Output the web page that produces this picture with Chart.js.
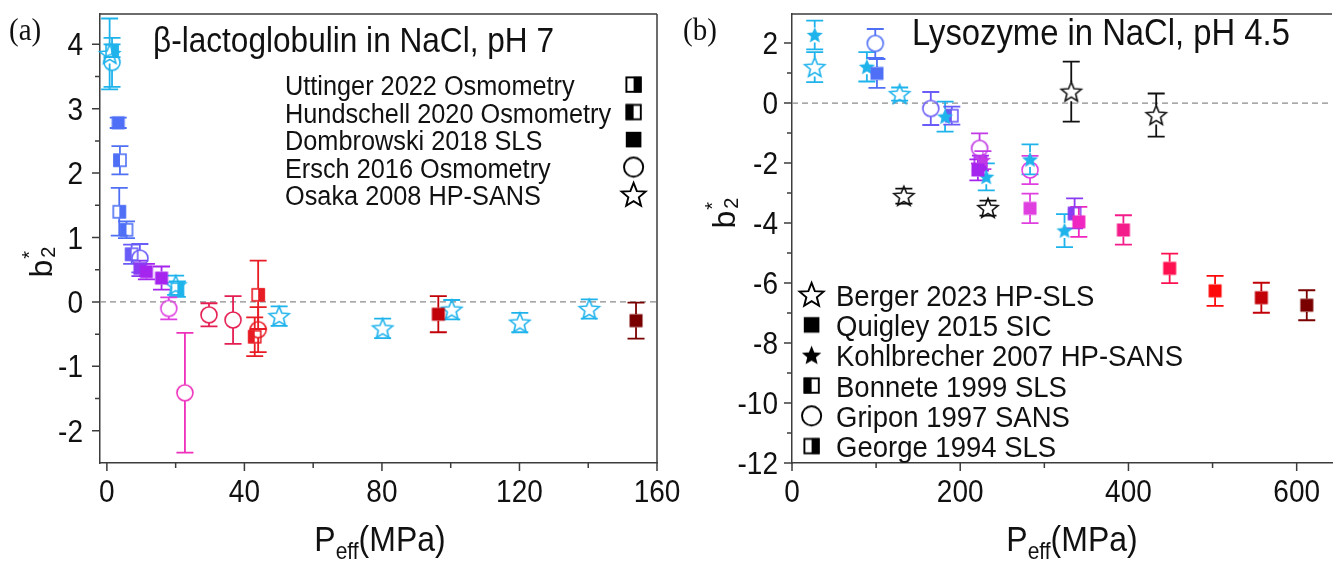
<!DOCTYPE html>
<html>
<head>
<meta charset="utf-8">
<script src="https://cdn.jsdelivr.net/npm/chart.js@4.4.0/dist/chart.umd.min.js"></script>
<style>
html, body { margin: 0; padding: 0; background: #fff; }
#wrap { position: relative; width: 1343px; height: 561px; overflow: hidden; }
canvas { position: absolute; top: 0; }
#cA { left: 0; }
#cB { left: 680px; }
</style>
</head>
<body>
<div id="wrap">
  <canvas id="cA" width="680" height="561"></canvas>
  <canvas id="cB" width="663" height="561"></canvas>
</div>
<script>
// colours, roughly following the pressure colour scale of the figure
const CYAN = '#1fb3ec', BLUE = '#4f70f6', INDIGO = '#6a5cf8', VIOLET = '#8a3cf2',
      PURPLE = '#a524ee', ORCHID = '#c23ae6', MAGENTA = '#e03fe0', PINK = '#ee30bc',
      ROSE = '#f41c8a', CRIMSON = '#e51e52', RED = '#e81c24', DARKRED = '#c20008',
      MAROON = '#7a0000', BLACK = '#111111';

// ---- panel (a): beta-lactoglobulin in NaCl, pH 7 ----
const uttingerX = [1.5, 3.6, 20.5, 44.0];
const uttingerY = [3.9, 1.4, 0.2, 0.11];
const uttingerErr = [0.1, 0.37, 0.12, 0.53];
const uttingerCol = [CYAN, BLUE, CYAN, RED];

const hundschellX = [3.8, 5.7, 7.2, 43.0];
const hundschellY = [2.2, 1.12, 0.74, -0.54];
const hundschellErr = [0.22, 0.13, 0.15, 0.3];
const hundschellCol = [BLUE, BLUE, INDIGO, RED];

const dombrowskiX = [3.3, 9.6, 11.5, 15.9, 96.4, 153.9];
const dombrowskiY = [2.78, 0.52, 0.47, 0.37, -0.19, -0.29];
const dombrowskiErr = [0.08, 0.12, 0.12, 0.18, 0.28, 0.28];
const dombrowskiCol = [BLUE, VIOLET, PURPLE, PURPLE, DARKRED, MAROON];

const erschX = [1.5, 9.6, 18.0, 22.7, 29.7, 36.7, 44.0];
const erschY = [3.72, 0.68, -0.1, -1.41, -0.2, -0.28, -0.43];
const erschErr = [0.38, 0.22, 0.17, 0.93, 0.18, 0.37, 0.35];
const erschCol = [CYAN, INDIGO, MAGENTA, PINK, CRIMSON, CRIMSON, RED];

const osakaX = [0.8, 20.0, 50.1, 80.2, 100.3, 120.1, 140.3];
const osakaY = [3.85, 0.26, -0.22, -0.41, -0.12, -0.32, -0.11];
const osakaErr = [0.55, 0.15, 0.15, 0.15, 0.15, 0.15, 0.15];
const osakaCol = [CYAN, CYAN, CYAN, CYAN, CYAN, CYAN, CYAN];

const xTicksA = [0, 40, 80, 120, 160];
const yTicksA = [-2, -1, 0, 1, 2, 3, 4];

// ---- panel (b): lysozyme in NaCl, pH 4.5 ----
const bergerX = [27, 128, 133, 233, 332, 433];
const bergerY = [1.2, 0.3, -3.1, -3.5, 0.38, -0.4];
const bergerErr = [0.5, 0.22, 0.25, 0.25, 1.0, 0.72];
const bergerCol = [CYAN, CYAN, BLACK, BLACK, BLACK, BLACK];

const quigleyX = [101, 221, 283, 341, 394, 449, 503, 558, 612];
const quigleyY = [0.99, -2.23, -3.51, -3.96, -4.23, -5.51, -6.26, -6.49, -6.74];
const quigleyErr = [0.48, 0.35, 0.49, 0.5, 0.49, 0.49, 0.5, 0.5, 0.5];
const quigleyCol = [BLUE, PURPLE, MAGENTA, '#f026c0', ROSE, '#ff1050', '#ff0a0a', DARKRED, MAROON];

const kohlbrecherX = [27, 89, 182, 227, 231, 283, 324];
const kohlbrecherY = [2.27, 1.21, -0.45, -1.9, -2.46, -1.88, -4.25];
const kohlbrecherErr = [0.48, 0.49, 0.5, 0.3, 0.45, 0.5, 0.55];
const kohlbrecherCol = [CYAN, CYAN, CYAN, ORCHID, CYAN, CYAN, CYAN];

const bonneteX = [190, 336];
const bonneteY = [-0.42, -3.68];
const bonneteErr = [0.3, 0.5];
const bonneteCol = [INDIGO, VIOLET];

const griponX = [99, 165, 223, 283];
const griponY = [1.99, -0.18, -1.51, -2.23];
const griponErr = [0.48, 0.55, 0.5, 0.47];
const griponCol = [BLUE, INDIGO, ORCHID, MAGENTA];

const georgeX = [224];
const georgeY = [-2.0];
const georgeErr = [0.25];
const georgeCol = [PURPLE];

const xTicksB = [0, 200, 400, 600];
const yTicksB = [-12, -10, -8, -6, -4, -2, 0, 2];

const SANS = '"Liberation Sans", Arial, sans-serif';
const SERIF = '"Liberation Serif", "Times New Roman", serif';
const STRETCH = 1.1;   // the original lettering is a little taller than plain Arial

// marker images (Origin-like symbols)
const GAP = { sq: 6.5, sqL: 6.5, sqR: 6.5, circ: 8, star: 9.5, starF: 7.5 };
const markerCache = {};

function starPath(g, cx, cy, R, r) {
    g.beginPath();
    for (let k = 0; k < 10; k++) {
        const rad = k % 2 ? r : R;
        const a = -Math.PI / 2 + k * Math.PI / 5;
        const px = cx + rad * Math.cos(a), py = cy + rad * Math.sin(a);
        if (k === 0) g.moveTo(px, py); else g.lineTo(px, py);
    }
    g.closePath();
}

function marker(shape, color, k) {
    k = k || 1;
    const key = shape + color + k;
    if (markerCache[key]) return markerCache[key];
    const c = document.createElement('canvas');
    c.width = c.height = Math.ceil(26 * k);
    const g = c.getContext('2d');
    g.scale(k, k);
    const m = 13;
    g.strokeStyle = color;
    g.fillStyle = color;
    g.lineWidth = 1.6;
    if (shape === 'sq') {
        g.fillRect(m - 6.5, m - 6.5, 13, 13);
    } else if (shape === 'sqL' || shape === 'sqR') {
        g.fillRect(shape === 'sqL' ? m - 6.5 : m, m - 6.5, 6.5, 13);
        g.strokeRect(m - 6, m - 6, 12, 12);
    } else if (shape === 'circ') {
        g.beginPath();
        g.arc(m, m, 8, 0, 2 * Math.PI);
        g.stroke();
    } else if (shape === 'star') {
        starPath(g, m, m + 0.8, 10.5, 4.6);
        g.stroke();
    } else {
        starPath(g, m, m + 0.6, 8.5, 3.8);
        g.fill();
    }
    markerCache[key] = c;
    return c;
}

function series(xs, ys, errs, cols, shape) {
    return {
        data: xs.map((x, i) => ({ x: x, y: ys[i] })),
        errs: errs,
        colors: cols,
        shape: shape,
        showLine: false,
        clip: false,
        pointRadius: 10,
        pointStyle: ctx => marker(shape, cols[ctx.dataIndex])
    };
}

function text(ctx, t, x, y, size, align, family) {
    ctx.save();
    ctx.translate(x, y);
    ctx.scale(1, STRETCH);
    ctx.font = size + 'px ' + (family || SANS);
    ctx.textAlign = align || 'left';
    ctx.textBaseline = 'alphabetic';
    ctx.fillText(t, 0, 0);
    ctx.restore();
}

function drawB2(ctx, x, cy) {
    ctx.save();
    ctx.translate(x, cy);
    ctx.rotate(-Math.PI / 2);
    ctx.fillStyle = '#111';
    ctx.font = '32px ' + SANS;
    const wb = ctx.measureText('b').width;
    ctx.font = '20px ' + SANS;
    const w2 = ctx.measureText('2').width;
    const sx = -(wb + w2 + 2) / 2;
    ctx.font = '32px ' + SANS;
    ctx.fillText('b', sx, 0);
    ctx.font = '20px ' + SANS;
    ctx.fillText('*', sx + wb + 1, -16);
    ctx.fillText('2', sx + wb + 2, 3);
    ctx.restore();
}

function drawPeff(ctx, cx, by) {
    ctx.save();
    ctx.font = '32px ' + SANS;
    const wP = ctx.measureText('P').width, wM = ctx.measureText('(MPa)').width;
    ctx.font = '21px ' + SANS;
    const wE = ctx.measureText('eff').width;
    const sx = cx - (wP + wE + wM) / 2;
    text(ctx, 'P', sx, by, 32);
    text(ctx, '(MPa)', sx + wP + wE, by, 32);
    text(ctx, 'eff', sx + wP, by + 8, 21);
    ctx.restore();
}

const decor = {
    id: 'decor',
    beforeDatasetsDraw(chart, args, o) {
        const { ctx, chartArea: a } = chart;
        const y = chart.scales.y;
        ctx.save();
        // dashed line at b2 = 0
        const y0 = y.getPixelForValue(0);
        ctx.strokeStyle = '#8c8c8c';
        ctx.lineWidth = 1.3;
        ctx.setLineDash([6, 4]);
        ctx.beginPath();
        ctx.moveTo(a.left, y0);
        ctx.lineTo(a.right, y0);
        ctx.stroke();
        ctx.setLineDash([]);
        // error bars, stopping at the symbol edge
        chart.data.datasets.forEach((ds, di) => {
            const meta = chart.getDatasetMeta(di);
            meta.data.forEach((pt, i) => {
                const v = ds.data[i], e = ds.errs[i], gap = GAP[ds.shape];
                const yt = y.getPixelForValue(v.y + e), yb = y.getPixelForValue(v.y - e);
                ctx.strokeStyle = ds.colors[i];
                ctx.lineWidth = 1.8;
                ctx.beginPath();
                if (pt.y - gap > yt) {
                    ctx.moveTo(pt.x, yt); ctx.lineTo(pt.x, pt.y - gap);
                    ctx.moveTo(pt.x, pt.y + gap); ctx.lineTo(pt.x, yb);
                }
                ctx.moveTo(pt.x - 8.5, yt); ctx.lineTo(pt.x + 8.5, yt);
                ctx.moveTo(pt.x - 8.5, yb); ctx.lineTo(pt.x + 8.5, yb);
                ctx.stroke();
            });
        });
        ctx.restore();
    },
    afterDraw(chart, args, o) {
        const { ctx, chartArea: a } = chart;
        const x = chart.scales.x, y = chart.scales.y;
        ctx.save();
        // frame and tick marks
        ctx.strokeStyle = '#3c3c3c';
        ctx.lineWidth = 1.5;
        ctx.beginPath();
        ctx.moveTo(a.left, a.top); ctx.lineTo(a.right, a.top);
        if (o.frameRight) { ctx.moveTo(a.right, a.top); ctx.lineTo(a.right, a.bottom); }
        o.xMajor.forEach((v, i) => {
            const px = x.getPixelForValue(v);
            ctx.moveTo(px, a.bottom); ctx.lineTo(px, a.bottom + 8);
            if (i < o.xMajor.length - 1) {
                const pm = x.getPixelForValue((v + o.xMajor[i + 1]) / 2);
                ctx.moveTo(pm, a.bottom); ctx.lineTo(pm, a.bottom + 5);
            }
        });
        o.yMajor.forEach((v, i) => {
            const py = y.getPixelForValue(v);
            ctx.moveTo(a.left, py); ctx.lineTo(a.left - 8, py);
            if (i < o.yMajor.length - 1) {
                const pm = y.getPixelForValue((v + o.yMajor[i + 1]) / 2);
                ctx.moveTo(a.left, pm); ctx.lineTo(a.left - 5, pm);
            }
        });
        ctx.stroke();

        ctx.fillStyle = '#111';
        // tick labels
        o.xMajor.forEach(v => text(ctx, String(v), x.getPixelForValue(v), a.bottom + 39, 28, 'center'));
        o.yMajor.forEach(v => text(ctx, String(v), a.left - o.yPad, y.getPixelForValue(v) + 11, 28, 'right'));

        // panel letter and title
        text(ctx, o.panel.text, o.panel.x, o.panel.y, 29, 'left', SERIF);
        text(ctx, o.title.text, o.title.x, o.title.y, o.title.size);

        // legend
        const L = o.legend;
        L.labels.forEach((t, i) => {
            const cy = L.y0 + i * L.dy;
            text(ctx, t, L.textX, cy + L.size * 0.36 * STRETCH, L.size);
            const img = marker(L.shapes[i], '#000', 1.2);
            ctx.drawImage(img, L.symX - img.width / 2, cy - img.height / 2);
        });

        drawPeff(ctx, o.xTitle.cx, o.xTitle.y);
        drawB2(ctx, o.yTitle.x, o.yTitle.cy);
        ctx.restore();
    }
};

function makePanel(id, w, pad, xr, yr, xTicks, yTicks, yPad, datasets, deco) {
    return new Chart(document.getElementById(id), {
        type: 'scatter',
        data: { datasets: datasets },
        plugins: [decor],
        options: {
            responsive: false,
            animation: false,
            events: [],
            devicePixelRatio: 1,
            layout: { padding: pad },
            plugins: {
                legend: { display: false },
                tooltip: { enabled: false },
                decor: Object.assign({ xMajor: xTicks, yMajor: yTicks, yPad: yPad }, deco)
            },
            scales: {
                x: {
                    type: 'linear',
                    min: xr[0], max: xr[1],
                    afterBuildTicks: s => { s.ticks = xTicks.map(v => ({ value: v })); },
                    afterFit: s => { s.height = 98; s.paddingLeft = 0; s.paddingRight = 0; },
                    ticks: { display: false },
                    grid: { display: false },
                    border: { display: true, color: '#3c3c3c', width: 1.5 }
                },
                y: {
                    type: 'linear',
                    min: yr[0], max: yr[1],
                    afterBuildTicks: s => { s.ticks = yTicks.map(v => ({ value: v })); },
                    afterFit: s => { s.width = w; s.paddingTop = 0; s.paddingBottom = 0; },
                    ticks: { display: false },
                    grid: { display: false },
                    border: { display: true, color: '#3c3c3c', width: 1.5 }
                }
            }
        }
    });
}

makePanel('cA', 100, { left: 0, right: 23, top: 14, bottom: 0 }, [-2, 160], [-2.5, 4.47], xTicksA, yTicksA, 17, [
    series(uttingerX, uttingerY, uttingerErr, uttingerCol, 'sqR'),
    series(hundschellX, hundschellY, hundschellErr, hundschellCol, 'sqL'),
    series(dombrowskiX, dombrowskiY, dombrowskiErr, dombrowskiCol, 'sq'),
    series(erschX, erschY, erschErr, erschCol, 'circ'),
    series(osakaX, osakaY, osakaErr, osakaCol, 'star')
], {
    frameRight: true,
    panel: { text: '(a)', x: 9, y: 40 },
    title: { text: 'β-lactoglobulin in NaCl, pH 7', x: 153, y: 52, size: 31.6 },
    legend: {
        labels: ['Uttinger 2022 Osmometry', 'Hundschell 2020 Osmometry', 'Dombrowski 2018 SLS',
                 'Ersch 2016 Osmometry', 'Osaka 2008 HP-SANS'],
        shapes: ['sqR', 'sqL', 'sq', 'circ', 'star'],
        textX: 285, symX: 634, y0: 85, dy: 27.5, size: 25.3
    },
    xTitle: { cx: 380, y: 551 },
    yTitle: { x: 52, cy: 262 }
});

makePanel('cB', 112, { left: 0, right: 0, top: 14, bottom: 0 }, [0, 642], [-12, 2.97], xTicksB, yTicksB, 14, [
    series(bergerX, bergerY, bergerErr, bergerCol, 'star'),
    series(quigleyX, quigleyY, quigleyErr, quigleyCol, 'sq'),
    series(kohlbrecherX, kohlbrecherY, kohlbrecherErr, kohlbrecherCol, 'starF'),
    series(bonneteX, bonneteY, bonneteErr, bonneteCol, 'sqL'),
    series(griponX, griponY, griponErr, griponCol, 'circ'),
    series(georgeX, georgeY, georgeErr, georgeCol, 'sqR')
], {
    frameRight: false,
    panel: { text: '(b)', x: 3, y: 40 },
    title: { text: 'Lysozyme in NaCl, pH 4.5', x: 232, y: 45, size: 32.8 },
    legend: {
        labels: ['Berger 2023 HP-SLS', 'Quigley 2015 SIC', 'Kohlbrecher 2007 HP-SANS',
                 'Bonnete 1999 SLS', 'Gripon 1997 SANS', 'George 1994 SLS'],
        shapes: ['star', 'sq', 'starF', 'sqL', 'circ', 'sqR'],
        textX: 156, symX: 132, y0: 295, dy: 30.3, size: 27.5
    },
    xTitle: { cx: 392, y: 551 },
    yTitle: { x: 55, cy: 213 }
});
</script>
</body>
</html>
